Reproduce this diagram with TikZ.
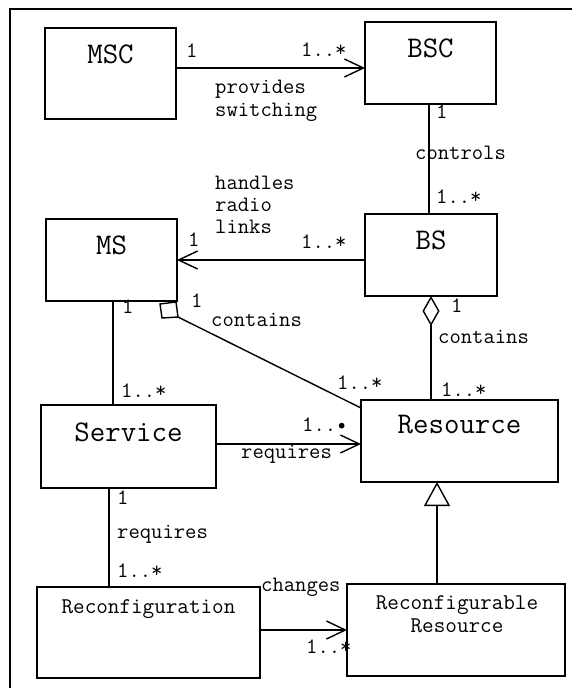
\documentclass[tikz,border=0pt]{standalone}
\usepackage{fontspec}
\usetikzlibrary{arrows.meta}
\begin{document}
\begin{tikzpicture}[x=1pt,y=-1pt,
 box/.style={draw,line width=1.6pt,inner sep=0pt,outer sep=0pt},
 nm/.style={font=\ttfamily\fontsize{30}{34}\selectfont,inner sep=0pt,anchor=base},
 sm/.style={font=\ttfamily\fontsize{22.5}{26}\selectfont,inner sep=0pt,anchor=base},
 lbl/.style={font=\ttfamily\fontsize{22}{26}\selectfont,inner sep=0pt,anchor=base west},
 conn/.style={line width=1.4pt},
 openarr/.style={conn,-{Straight Barb[length=19pt,width=18pt]}},
]
\useasboundingbox (0,0) rectangle (572,688);
\draw[line width=1.2pt] (572,9) -- (10,9) -- (10,688);

% boxes
\node[box,minimum width=131pt,minimum height=91pt] (msc) at (110.5,73.5) {};
\node[box,minimum width=131pt,minimum height=82pt] (bsc) at (430.5,63) {};
\node[box,minimum width=131pt,minimum height=82pt] (ms) at (111.5,260) {};
\node[box,minimum width=132pt,minimum height=82pt] (bs) at (431,255) {};
\node[box,minimum width=175pt,minimum height=83pt] (service) at (128.5,446.5) {};
\node[box,minimum width=197pt,minimum height=82pt] (resource) at (459.5,441) {};
\node[box,minimum width=223pt,minimum height=91pt] (reconf) at (148.5,632.5) {};
\node[box,minimum width=218pt,minimum height=92pt] (rres) at (456,630) {};

% names
\node[nm] (msct) at (110.5,63) {MSC};
\node[nm] (bsct) at (430.5,57) {BSC};
\node[nm] (mst) at (111.5,254) {MS};
\node[nm] (bst) at (431,249) {BS};
\node[nm] (servicet) at (128.5,441) {Service};
\node[nm] (resourcet) at (459.5,433) {Resource};
\node[sm] (reconft) at (148.5,613) {Reconfiguration};
\node[sm] (rrest1) at (457,609) {Reconfigurable};
\node[sm] (rrest2) at (457,632) {Resource};

% connectors
\draw[openarr] ([yshift=5.5pt]msc.east) -- ([yshift=-5pt]bsc.west);
\draw[conn] ([xshift=-1.5pt]bsc.south) -- ([xshift=-2pt]bs.north);
\draw[openarr] ([yshift=-5pt]bs.west) -- (ms.east);
\draw[conn] ([xshift=1.5pt]ms.south) coordinate (mssv) -- (mssv |- service.north);
\coordinate (msagg) at ([shift={(1,16)}]ms.south east);
\draw[conn] ([shift={(-17,3)}]ms.south east) -- ([shift={(-1,1)}]ms.south east) -- (msagg) -- ([shift={(-15,17)}]ms.south east) -- cycle;
\draw[conn] (msagg) -- ([yshift=33pt]resource.west);
\draw[conn,{Diamond[open,length=30pt,width=17pt]}-] (bs.south) -- (bs.south |- resource.north);
\draw[openarr] ([yshift=2.5pt]service.east) -- ([yshift=-3pt]resource.west);
\draw[conn] ([xshift=-19.5pt]service.south) coordinate (svrc) -- (svrc |- reconf.north);
\draw[openarr] ([yshift=2.5pt]reconf.east) -- (rres.west);
\draw[conn,-{Triangle[open,length=24pt,width=26pt]}] ([xshift=-19pt]rres.north) coordinate (gen) -- (gen |- resource.south);

% labels
\node[lbl] (l1) at (186,57) {1};
\node[lbl] (l2) at (301,56) {1..*};
\node[lbl] (l3) at (215,93) {provides};
\node[lbl] (l4) at (215,116) {switching};
\node[lbl] (l5) at (436,118) {1};
\node[lbl] (l6) at (415,159) {controls};
\node[lbl] (l7) at (436,203) {1..*};
\node[lbl] (l8) at (215,189) {handles};
\node[lbl] (l9) at (215,211) {radio};
\node[lbl] (l10) at (215,233) {links};
\node[lbl] (l11) at (188,246) {1};
\node[lbl] (l12) at (301,248) {1..*};
\node[lbl] (l13) at (122,313) {1};
\node[lbl] (l14) at (191,307) {1};
\node[lbl] (l15) at (211,326) {contains};
\node[lbl] (l16) at (121,397) {1..*};
\node[lbl] (l17) at (337,389) {1..*};
\node[lbl] (l18) at (451,312) {1};
\node[lbl] (l19) at (438,343) {contains};
\node[lbl] (l20) at (441,396) {1..*};
\node[lbl] (l21) at (302,431) {1..\textbullet};
\node[lbl] (l22) at (241,458) {requires};
\node[lbl] (l23) at (117,504) {1};
\node[lbl] (l24) at (117,538) {requires};
\node[lbl] (l25) at (117,577) {1..*};
\node[lbl] (l26) at (261,591) {changes};
\node[lbl] (l27) at (306,653) {1..*};
\end{tikzpicture}
\end{document}
